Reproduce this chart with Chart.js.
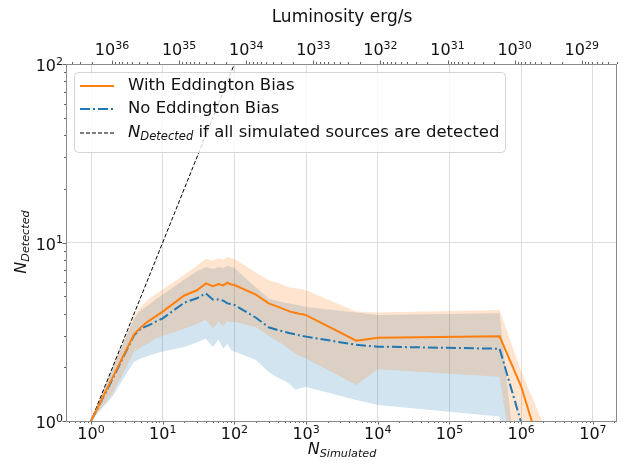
<!DOCTYPE html>
<html>
<head>
<meta charset="utf-8">
<script src="https://cdn.jsdelivr.net/npm/chart.js@4/dist/chart.umd.min.js"></script>
<style>
  html, body { margin: 0; padding: 0; background: #fff; }
</style>
</head>
<body>
<canvas id="chart" width="628" height="464"></canvas>
<script>
// number of simulated sources at each run
const N_SIM = [1, 2, 3, 4, 5, 6, 7, 8, 9, 10, 20, 30, 40, 50, 60, 70, 80, 90, 100,
  200, 300, 400, 500, 600, 700, 800, 900, 1000, 5000, 10000, 500000, 1000000, 2000000];

// detected counts, median and spread
const WITH_BIAS = [1.0, 1.75, 2.43, 3.07, 3.35, 3.57, 3.72, 3.86, 3.98, 4.1,
  5.05, 5.4, 5.9, 5.7, 5.85, 5.75, 5.95, 5.82, 5.78,
  5.1, 4.56, 4.37, 4.22, 4.1, 4.04, 3.99, 3.96, 3.92,
  2.82, 2.93, 2.98, 1.56, 0.63];
const WITH_BIAS_HI = [1, 2, 2.95, 3.9, 4.4, 4.7, 4.95, 5.15, 5.3, 5.45,
  6.6, 7.4, 8.1, 7.9, 8.2, 8.0, 8.3, 8.15, 8.1,
  6.8, 6.15, 5.95, 5.75, 5.6, 5.55, 5.5, 5.45, 5.4,
  4.1, 4.05, 4.19, 1.9, 0.98];
const WITH_BIAS_LO = [1, 1.43, 1.95, 2.45, 2.6, 2.7, 2.8, 2.9, 2.95, 3.0,
  3.3, 3.5, 3.7, 3.3, 3.6, 3.4, 3.65, 3.55, 3.6,
  3.35, 3.0, 2.8, 2.65, 2.5, 2.4, 2.32, 2.27, 2.24,
  1.59, 1.95, 1.77, 0.3, 0.1];

const NO_BIAS = [1.0, 1.72, 2.4, 3.03, 3.3, 3.4, 3.5, 3.6, 3.68, 3.76,
  4.6, 4.87, 5.19, 4.8, 4.8, 4.72, 4.56, 4.52, 4.47,
  3.79, 3.35, 3.23, 3.16, 3.1, 3.06, 3.02, 2.99, 2.97,
  2.67, 2.61, 2.54, 0.98, 0.3];
const NO_BIAS_HI = [1, 2, 2.9, 3.75, 4.2, 4.4, 4.6, 4.8, 4.95, 5.1,
  6.2, 6.9, 7.3, 7.1, 7.3, 7.2, 7.4, 7.3, 7.2,
  5.6, 4.85, 4.7, 4.6, 4.55, 4.5, 4.45, 4.4, 4.35,
  4.05, 3.92, 4.01, 0.3, 0.1];
const NO_BIAS_LO = [1, 1.37, 1.8, 2.15, 2.25, 2.3, 2.35, 2.4, 2.42, 2.45,
  2.6, 2.75, 2.9, 2.6, 2.85, 2.55, 2.7, 2.5, 2.45,
  2.2, 1.88, 1.75, 1.68, 1.6, 1.5, 1.52, 1.54, 1.55,
  1.31, 1.23, 1.06, 0.1, 0.05];

// every simulated source detected
const ALL_DETECTED = [1, 100];

// axis ranges
const X_RANGE = [0.448, 2.17e7];
const Y_RANGE = [1, 100];
const LUM_RANGE = [2.98e28, 4.85e36];

const ORANGE = '#ff7f0e';
const BLUE = '#1f77b4';
const FONT = '"DejaVu Sans"';
const INK = '#111';

const pts = (xs, ys) => xs.map((x, i) => ({ x, y: ys[i] }));
const isDecade = v => Math.abs(Math.log10(v) - Math.round(Math.log10(v))) < 1e-6;

// 1..9 x 10^n ticks, decades flagged as major
function logTicks(scale) {
  const lo = Math.floor(Math.log10(scale.min)), hi = Math.ceil(Math.log10(scale.max));
  const ticks = [];
  for (let e = lo; e <= hi; e++) {
    for (let m = 1; m < 10; m++) {
      const v = m * Math.pow(10, e);
      if (v >= scale.min * (1 - 1e-9) && v <= scale.max * (1 + 1e-9)) ticks.push({ value: v, major: m === 1 });
    }
  }
  scale.ticks = ticks;
}

const gridColor = ctx => (ctx.tick && ctx.tick.major ? '#dcdcdc' : 'rgba(0,0,0,0)');

// text with italic symbol and subscript
function partFont(p, size) {
  return (p.italic ? 'italic ' : '') + (p.sub ? size * 0.7 : size) + 'px ' + FONT;
}
function mathWidth(ctx, parts, size) {
  let w = 0;
  parts.forEach(p => { ctx.font = partFont(p, size); w += ctx.measureText(p.t).width; });
  return w;
}
function drawMath(ctx, parts, x, y, size, center) {
  let cx = center ? x - mathWidth(ctx, parts, size) / 2 : x;
  ctx.textAlign = 'left';
  ctx.textBaseline = 'middle';
  parts.forEach(p => {
    ctx.font = partFont(p, size);
    ctx.fillText(p.t, cx, p.sub ? y + size * 0.27 : y);
    cx += ctx.measureText(p.t).width;
  });
}

// "10" with raised exponent; align: 'center' or 'right' at x, baseline at y
function drawPow(ctx, exp, x, y, align) {
  const base = '10', e = String(exp);
  ctx.font = '16px ' + FONT;
  const wb = ctx.measureText(base).width;
  ctx.font = '11px ' + FONT;
  const we = ctx.measureText(e).width;
  const x0 = align === 'right' ? x - wb - we : x - (wb + we) / 2;
  ctx.textAlign = 'left';
  ctx.textBaseline = 'alphabetic';
  ctx.font = '16px ' + FONT;
  ctx.fillText(base, x0, y);
  ctx.font = '11px ' + FONT;
  ctx.fillText(e, x0 + wb, y - 6.5);
}

const LEGEND = [
  { parts: [{ t: 'With Eddington Bias' }], color: ORANGE, dash: [], width: 2 },
  { parts: [{ t: 'No Eddington Bias' }], color: BLUE, dash: [10, 3, 2, 3], width: 2 },
  { parts: [{ t: 'N', italic: true }, { t: 'Detected', italic: true, sub: true }, { t: ' if all simulated sources are detected' }],
    color: '#000', dash: [4, 2], width: 1 }
];

const decor = {
  id: 'decor',
  afterDraw(chart) {
    const ctx = chart.ctx;
    const a = chart.chartArea;
    const { x, x2, y } = chart.scales;
    ctx.save();

    // tick marks
    ctx.strokeStyle = '#666';
    ctx.lineWidth = 1;
    const marks = (scale, side) => {
      scale.ticks.forEach(t => {
        const len = t.major ? 3.5 : 2;
        const p = Math.round(scale.getPixelForValue(t.value)) + 0.5;
        ctx.beginPath();
        if (side === 'bottom') { ctx.moveTo(p, a.bottom); ctx.lineTo(p, a.bottom + len); }
        if (side === 'top') { ctx.moveTo(p, a.top); ctx.lineTo(p, a.top - len); }
        if (side === 'left') { ctx.moveTo(a.left, p); ctx.lineTo(a.left - len, p); }
        ctx.stroke();
      });
    };
    marks(x, 'bottom');
    marks(x2, 'top');
    marks(y, 'left');

    // tick labels at decades
    ctx.fillStyle = INK;
    x.ticks.filter(t => isDecade(t.value)).forEach(t =>
      drawPow(ctx, Math.round(Math.log10(t.value)), x.getPixelForValue(t.value), a.bottom + 18, 'center'));
    x2.ticks.filter(t => isDecade(t.value)).forEach(t =>
      drawPow(ctx, Math.round(Math.log10(t.value)), x2.getPixelForValue(t.value), a.top - 9, 'center'));
    y.ticks.filter(t => isDecade(t.value)).forEach(t =>
      drawPow(ctx, Math.round(Math.log10(t.value)), a.left - 3, y.getPixelForValue(t.value) + 7, 'right'));

    // frame
    ctx.strokeStyle = '#8a8a8a';
    ctx.strokeRect(Math.round(a.left) + 0.5, Math.round(a.top) + 0.5,
      Math.round(a.right - a.left) - 1, Math.round(a.bottom - a.top));

    // legend
    const lx = 74.5, ly = 72.5, lw = 431, lh = 80;
    ctx.beginPath();
    ctx.roundRect(lx, ly, lw, lh, 4);
    ctx.fillStyle = 'rgba(255,255,255,0.8)';
    ctx.fill();
    ctx.strokeStyle = '#d4d4d4';
    ctx.stroke();
    const rows = [86, 109, 133];
    LEGEND.forEach((item, i) => {
      ctx.beginPath();
      ctx.setLineDash(item.dash);
      ctx.strokeStyle = item.color;
      ctx.lineWidth = item.width;
      ctx.moveTo(80, rows[i]);
      ctx.lineTo(114, rows[i]);
      ctx.stroke();
      ctx.setLineDash([]);
      ctx.fillStyle = INK;
      drawMath(ctx, item.parts, 128, rows[i], 16.5, false);
    });

    // axis titles
    ctx.fillStyle = INK;
    ctx.font = '17px ' + FONT;
    ctx.textAlign = 'center';
    ctx.textBaseline = 'middle';
    ctx.fillText('Luminosity erg/s', 342, 18);
    drawMath(ctx, [{ t: 'N', italic: true }, { t: 'Simulated', italic: true, sub: true }], 342, 450, 16, true);
    ctx.translate(22, 242);
    ctx.rotate(-Math.PI / 2);
    drawMath(ctx, [{ t: 'N', italic: true }, { t: 'Detected', italic: true, sub: true }], 0, 0, 16, true);
    ctx.restore();
  }
};

const hidden = { display: true, callback: () => '' };

new Chart(document.getElementById('chart'), {
  type: 'line',
  data: {
    datasets: [
      { label: 'With Eddington Bias', data: pts(N_SIM, WITH_BIAS), borderColor: ORANGE, borderWidth: 2, pointRadius: 0, fill: false },
      { label: 'No Eddington Bias', data: pts(N_SIM, NO_BIAS), borderColor: BLUE, borderWidth: 2, borderDash: [10, 3, 2, 3], pointRadius: 0, fill: false },
      { label: 'all detected', data: pts(ALL_DETECTED, ALL_DETECTED), borderColor: '#000', borderWidth: 1, borderDash: [4, 2], pointRadius: 0, fill: false },
      { data: pts(N_SIM, WITH_BIAS_HI), borderColor: 'rgba(0,0,0,0)', borderWidth: 0, pointRadius: 0, backgroundColor: 'rgba(255,127,14,0.2)', fill: '+1' },
      { data: pts(N_SIM, WITH_BIAS_LO), borderColor: 'rgba(0,0,0,0)', borderWidth: 0, pointRadius: 0, fill: false },
      { data: pts(N_SIM, NO_BIAS_HI), borderColor: 'rgba(0,0,0,0)', borderWidth: 0, pointRadius: 0, backgroundColor: 'rgba(31,119,180,0.2)', fill: '+1' },
      { data: pts(N_SIM, NO_BIAS_LO), borderColor: 'rgba(0,0,0,0)', borderWidth: 0, pointRadius: 0, fill: false }
    ]
  },
  options: {
    responsive: false,
    animation: false,
    devicePixelRatio: 1,
    layout: { padding: { left: 0, right: 11, top: 0, bottom: 0 } },
    plugins: { legend: { display: false }, tooltip: { enabled: false } },
    elements: { line: { tension: 0 } },
    scales: {
      x: {
        type: 'logarithmic', position: 'bottom', min: X_RANGE[0], max: X_RANGE[1],
        afterBuildTicks: logTicks,
        afterFit: s => { s.height = 43; },
        grid: { color: gridColor, drawTicks: false },
        border: { display: false },
        ticks: hidden
      },
      x2: {
        type: 'logarithmic', position: 'top', reverse: true, min: LUM_RANGE[0], max: LUM_RANGE[1],
        afterBuildTicks: logTicks,
        afterFit: s => { s.height = 64; },
        grid: { drawOnChartArea: false, drawTicks: false },
        border: { display: false },
        ticks: hidden
      },
      y: {
        type: 'logarithmic', min: Y_RANGE[0], max: Y_RANGE[1],
        afterBuildTicks: logTicks,
        afterFit: s => { s.width = 66; },
        grid: { color: gridColor, drawTicks: false },
        border: { display: false },
        ticks: hidden
      }
    }
  },
  plugins: [decor]
});
</script>
</body>
</html>
